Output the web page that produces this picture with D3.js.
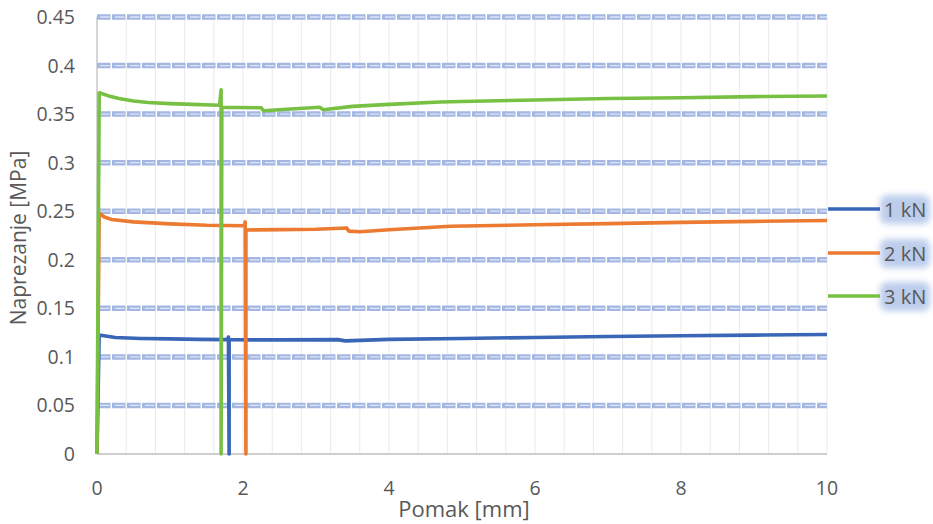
<!DOCTYPE html>
<html>
<head>
<meta charset="utf-8">
<script src="https://cdn.jsdelivr.net/npm/d3@7"></script>
<style>
  body { margin: 0; background: #fff; }
  svg { display: block; font-family: "Open Sans", "Noto Sans", sans-serif; }
</style>
</head>
<body>
<svg width="933" height="524"></svg>
<script>
// series names
var seriesNames = ['1 kN', '2 kN', '3 kN'];
var seriesColors = ['#3966b6', '#ec7a31', '#78c043'];

// Pomak [mm] / Naprezanje [MPa]
var x1kN = [0, 0.03, 0.25, 0.6, 1.0, 1.4, 1.79, 1.80, 1.81, 1.81, 1.84, 2.5, 3.3, 3.4, 3.6, 4, 5, 6, 7, 8, 9, 10];
var y1kN = [0, 0.1226, 0.1200, 0.1190, 0.1185, 0.1180, 0.1178, 0.1205, 0, 0.1176, 0.1176, 0.1175, 0.1178, 0.1165, 0.1170, 0.1180, 0.1190, 0.1200, 0.1210, 0.1218, 0.1224, 0.1230];

var x2kN = [0, 0.03, 0.1, 0.2, 0.5, 1.0, 1.5, 2.02, 2.03, 2.04, 2.04, 2.5, 3.0, 3.42, 3.45, 3.6, 4, 4.84, 6, 7, 8, 9, 10];
var y2kN = [0, 0.2480, 0.2440, 0.2415, 0.2390, 0.2370, 0.2355, 0.2350, 0.2390, 0, 0.2307, 0.2310, 0.2315, 0.2328, 0.2295, 0.2288, 0.2310, 0.2345, 0.2360, 0.2372, 0.2385, 0.2395, 0.2405];

var x3kN = [0, 0.03, 0.15, 0.3, 0.5, 0.7, 1.0, 1.3, 1.68, 1.70, 1.70, 1.71, 2.25, 2.28, 2.6, 3.05, 3.1, 3.5, 4, 4.7, 5, 6, 7, 8, 9, 10];
var y3kN = [0, 0.3720, 0.3690, 0.3660, 0.3635, 0.3620, 0.3608, 0.3600, 0.3592, 0.3750, 0, 0.3570, 0.3565, 0.3535, 0.3550, 0.3570, 0.3545, 0.3580, 0.3600, 0.3625, 0.3630, 0.3645, 0.3660, 0.3668, 0.3680, 0.3687];

var xTicks = [0, 2, 4, 6, 8, 10];
var yTicks = [0, 0.05, 0.1, 0.15, 0.2, 0.25, 0.3, 0.35, 0.4, 0.45];

var seriesX = [x1kN, x2kN, x3kN];
var seriesY = [y1kN, y2kN, y3kN];

var svg = d3.select('svg');

var x = d3.scaleLinear().domain([0, 10]).range([97, 827]);
var y = d3.scaleLinear().domain([0, 0.45]).range([454, 17]);

// minor vertical gridlines every 0.4 mm
var minorX = d3.range(1, 26).map(function(i) { return i * 0.4; });
svg.append('g')
  .selectAll('line')
  .data(minorX)
  .enter()
  .append('line')
  .attr('x1', function(d) { return x(d); })
  .attr('x2', function(d) { return x(d); })
  .attr('y1', y(0.45))
  .attr('y2', y(0))
  .style('stroke', '#ebebeb')
  .style('stroke-width', 1);

// horizontal dashed band gridlines
var grid = svg.append('g');
var gridY = yTicks.filter(function(d) { return d > 0; });
grid.selectAll('line.band')
  .data(gridY)
  .enter()
  .append('line')
  .attr('class', 'band')
  .attr('x1', x(0))
  .attr('x2', x(10))
  .attr('y1', function(d) { return y(d); })
  .attr('y2', function(d) { return y(d); })
  .style('stroke', '#a3b7e2')
  .style('stroke-width', 5.5)
  .style('stroke-dasharray', '13.5 1.5');
grid.selectAll('line.inner')
  .data(gridY)
  .enter()
  .append('line')
  .attr('class', 'inner')
  .attr('x1', x(0) + 3)
  .attr('x2', x(10))
  .attr('y1', function(d) { return y(d); })
  .attr('y2', function(d) { return y(d); })
  .style('stroke', '#dde5f6')
  .style('stroke-width', 1.3)
  .style('stroke-dasharray', '9.5 5.5');

// axes lines
svg.append('line')
  .attr('x1', x(0)).attr('x2', x(10))
  .attr('y1', y(0)).attr('y2', y(0))
  .style('stroke', '#bfbfbf').style('stroke-width', 1.3);
svg.append('line')
  .attr('x1', x(0)).attr('x2', x(0))
  .attr('y1', y(0.45)).attr('y2', y(0))
  .style('stroke', '#bfbfbf').style('stroke-width', 1.3);

// tick labels
svg.append('g')
  .selectAll('text')
  .data(yTicks)
  .enter()
  .append('text')
  .attr('x', 75)
  .attr('y', function(d) { return y(d) + 7; })
  .attr('text-anchor', 'end')
  .style('font-size', '19.5px')
  .style('fill', '#595959')
  .text(function(d) { return d3.format('')(+d.toFixed(2)); });

svg.append('g')
  .selectAll('text')
  .data(xTicks)
  .enter()
  .append('text')
  .attr('x', function(d) { return x(d); })
  .attr('y', 495)
  .attr('text-anchor', 'middle')
  .style('font-size', '19.5px')
  .style('fill', '#595959')
  .text(function(d) { return d; });

// axis titles
svg.append('text')
  .attr('transform', 'translate(26,' + 238 + ') rotate(-90)')
  .attr('text-anchor', 'middle')
  .style('font-size', '21px')
  .style('fill', '#595959')
  .text('Naprezanje [MPa]');

svg.append('text')
  .attr('x', 464)
  .attr('y', 517)
  .attr('text-anchor', 'middle')
  .style('font-size', '22px')
  .style('fill', '#595959')
  .text('Pomak [mm]');

// series lines
var line = d3.line()
  .x(function(d) { return x(d[0]); })
  .y(function(d) { return y(d[1]); });

seriesNames.forEach(function(name, i) {
  var pts = d3.zip(seriesX[i], seriesY[i]);
  svg.append('path')
    .datum(pts)
    .attr('d', line)
    .style('fill', 'none')
    .style('stroke', seriesColors[i])
    .style('stroke-width', 3.6)
    .style('stroke-linejoin', 'round');
});

// legend with glow
var defs = svg.append('defs');
defs.append('filter')
  .attr('id', 'glow')
  .attr('x', '-30%').attr('y', '-50%')
  .attr('width', '160%').attr('height', '200%')
  .append('feGaussianBlur')
  .attr('stdDeviation', 3);

var legendY = [209, 253, 296];
var legend = svg.append('g');
seriesNames.forEach(function(name, i) {
  var ly = legendY[i];
  legend.append('rect')
    .attr('x', 880).attr('y', ly - 14)
    .attr('width', 50).attr('height', 29)
    .attr('rx', 7)
    .style('fill', '#bccdec')
    .attr('filter', 'url(#glow)');
  legend.append('line')
    .attr('x1', 828).attr('x2', 880)
    .attr('y1', ly).attr('y2', ly)
    .style('stroke', seriesColors[i])
    .style('stroke-width', 3.6);
  legend.append('text')
    .attr('x', 884)
    .attr('y', ly + 7.5)
    .style('font-size', '20px')
    .style('fill', '#595959')
    .text(name);
});
</script>
</body>
</html>
